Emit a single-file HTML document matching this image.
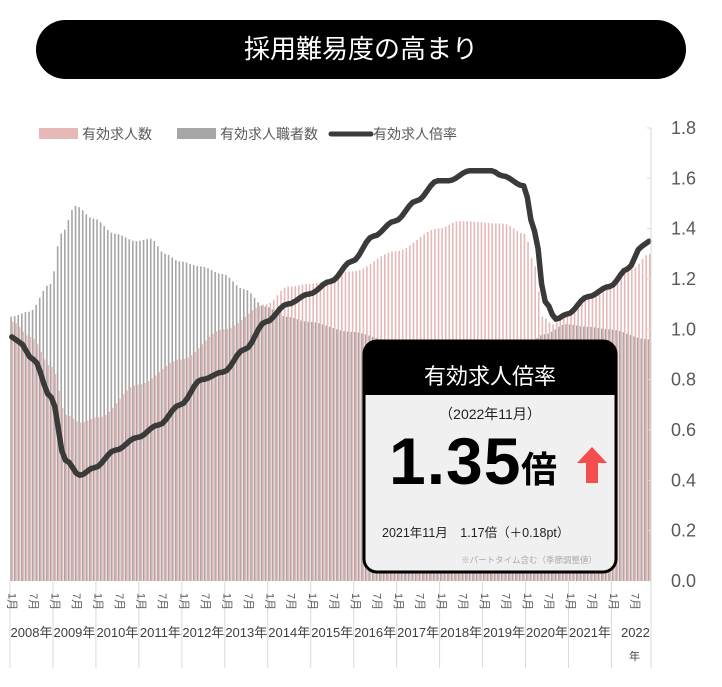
<!DOCTYPE html>
<html><head><meta charset="utf-8">
<style>
html,body{margin:0;padding:0;background:#fff;}
body{width:722px;height:682px;position:relative;overflow:hidden;font-family:"Liberation Sans","Noto Sans CJK JP",sans-serif;}
svg text{font-family:"Liberation Sans","Noto Sans CJK JP",sans-serif;}
</style></head><body>
<svg id="s" width="722" height="682" xmlns="http://www.w3.org/2000/svg"></svg>
<script>
var NS="http://www.w3.org/2000/svg",s=document.getElementById('s');
function el(t,a,txt){var e=document.createElementNS(NS,t);for(var k in a)e.setAttribute(k,a[k]);if(txt!=null)e.textContent=txt;s.appendChild(e);return e;}
function idx(y,m){return (y-2008)*12+(m-1);}
function interp(keys){var arr=[];for(var i=0;i<179;i++){for(var j=0;j<keys.length-1;j++){var a=keys[j],b=keys[j+1],ia=idx(a[0],a[1]),ib=idx(b[0],b[1]);if(i>=ia&&i<=ib){var t=(i-ia)/(ib-ia);t=(1-Math.cos(Math.PI*t))/2;arr.push(a[2]+(b[2]-a[2])*t);break;}}}return arr;}
var ratio=interp([[2008,1,0.97],[2008,3,0.95],[2008,7,0.88],[2008,12,0.73],[2009,4,0.48],[2009,8,0.42],[2009,12,0.45],[2010,6,0.52],[2010,12,0.57],[2011,6,0.62],[2011,12,0.70],[2012,6,0.80],[2012,12,0.83],[2013,6,0.92],[2013,12,1.03],[2014,6,1.10],[2014,12,1.14],[2015,6,1.19],[2015,12,1.27],[2016,6,1.37],[2016,12,1.43],[2017,6,1.51],[2017,12,1.59],[2018,3,1.59],[2018,9,1.63],[2019,3,1.63],[2019,6,1.61],[2019,12,1.57],[2020,3,1.39],[2020,6,1.11],[2020,9,1.04],[2020,12,1.06],[2021,6,1.13],[2021,12,1.17],[2022,5,1.24],[2022,9,1.33],[2022,11,1.35]]);
var gray=interp([[2008,1,1.05],[2008,6,1.07],[2008,12,1.18],[2009,3,1.38],[2009,7,1.49],[2009,12,1.44],[2010,6,1.38],[2010,12,1.35],[2011,4,1.36],[2011,8,1.30],[2011,12,1.27],[2012,6,1.25],[2012,12,1.22],[2013,6,1.16],[2013,12,1.09],[2014,6,1.05],[2014,12,1.03],[2015,12,0.99],[2016,12,0.95],[2017,12,0.92],[2018,12,0.90],[2019,12,0.92],[2020,6,0.98],[2020,12,1.02],[2021,6,1.01],[2021,12,1.00],[2022,11,0.96]]);
var pink=interp([[2008,1,1.03],[2008,6,0.97],[2008,12,0.85],[2009,4,0.66],[2009,8,0.63],[2010,1,0.65],[2010,12,0.78],[2011,12,0.88],[2012,12,1.00],[2013,12,1.10],[2014,6,1.17],[2014,12,1.18],[2015,12,1.23],[2016,12,1.31],[2017,12,1.40],[2018,6,1.43],[2019,6,1.42],[2019,12,1.38],[2020,3,1.25],[2020,5,1.05],[2020,8,1.02],[2020,12,1.06],[2021,6,1.13],[2021,12,1.17],[2022,6,1.24],[2022,11,1.30]]);
var X0=10,DX=3.58,Y0=581,K=251.7;
function Y(v){return Y0-v*K;}
el('rect',{x:36,y:20,width:650,height:59,rx:29.5,fill:'#000'});
el('text',{x:361,y:58,'text-anchor':'middle',fill:'#fff','font-size':26},'採用難易度の高まり');
for(var i=0;i<179;i++){var x=X0+i*DX;
el('rect',{x:x+0.3,y:Y(gray[i]),width:1.6,height:gray[i]*K,fill:'#a6a6a6'});
el('rect',{x:x+1.7,y:Y(pink[i]),width:1.6,height:pink[i]*K,fill:'#e6b8b8'});}
var d='';for(var i=0;i<179;i++){d+=(i?'L':'M')+(X0+i*DX+1.8).toFixed(1)+' '+Y(ratio[i]).toFixed(1);}
el('path',{d:d,fill:'none',stroke:'#3a3a3a','stroke-width':5.5,'stroke-linejoin':'round','stroke-linecap':'round'});
el('line',{x1:651,y1:128,x2:651,y2:581,stroke:'#d9d9d9','stroke-width':1});
for(var v=0;v<=9;v++){var yy=Y(v*0.2);el('line',{x1:647,y1:yy,x2:651,y2:yy,stroke:'#d9d9d9'});
el('text',{x:671,y:yy+6,fill:'#595959','font-size':18},(v*0.2).toFixed(1));}
for(var yr=2008;yr<=2023;yr++){var x=X0+(yr-2008)*12*DX;if(yr==2023)x=651;
el('line',{x1:x,y1:581,x2:x,y2:668,stroke:'#d9d9d9','stroke-width':1});}
for(var yr=2008;yr<=2022;yr++){var x=X0+(yr-2008)*12*DX;
[[0,'1月'],[6,'7月']].forEach(function(p){var cx=x+p[0]*DX+2;el('text',{x:0,y:0,fill:'#595959','font-size':11,transform:'translate('+(cx-3.5).toFixed(1)+',593) rotate(90)'},p[1]);});
if(yr<2022)el('text',{x:x+21.5,y:637,'text-anchor':'middle',fill:'#404040','font-size':13},yr+'年');}
el('text',{x:X0+14*12*DX+24,y:637,'text-anchor':'middle',fill:'#404040','font-size':13},'2022');
el('text',{x:X0+14*12*DX+23,y:660,'text-anchor':'middle',fill:'#404040','font-size':11},'年');
el('rect',{x:39,y:128,width:39,height:11,fill:'#e6b8b8'});
el('text',{x:82,y:139,fill:'#595959','font-size':14},'有効求人数');
el('rect',{x:177,y:128,width:39,height:11,fill:'#a6a6a6'});
el('text',{x:220,y:139,fill:'#595959','font-size':14},'有効求人職者数');
el('line',{x1:331,y1:134,x2:371,y2:134,stroke:'#3a3a3a','stroke-width':5,'stroke-linecap':'round'});
el('text',{x:373,y:139,fill:'#595959','font-size':14},'有効求人倍率');
el('rect',{x:364,y:341,width:252,height:231,rx:13,fill:'#f0f0f0',stroke:'#000','stroke-width':3});
el('path',{d:'M364 395 V354 a13 13 0 0 1 13 -13 H603 a13 13 0 0 1 13 13 V395 Z',fill:'#000'});
el('text',{x:490,y:384,'text-anchor':'middle',fill:'#fff','font-size':22},'有効求人倍率');
el('text',{x:490,y:419,'text-anchor':'middle',fill:'#222','font-size':14},'（2022年11月）');
el('text',{x:389,y:484,fill:'#000','font-size':66,'font-weight':'bold','letter-spacing':'1'},'1.35');
el('text',{x:521,y:482,fill:'#000','font-size':36,'font-weight':'bold'},'倍');
el('path',{d:'M592 447 L607 463 L598 463 L598 483 L586 483 L586 463 L577 463 Z',fill:'#f54c4c'});
el('text',{x:382,y:537,fill:'#222','font-size':12.5},'2021年11月　1.17倍（＋0.18pt）');
el('text',{x:597,y:563,'text-anchor':'end',fill:'#aaa','font-size':8.5},'※パートタイム含む（季節調整値）');
</script>
</body></html>
